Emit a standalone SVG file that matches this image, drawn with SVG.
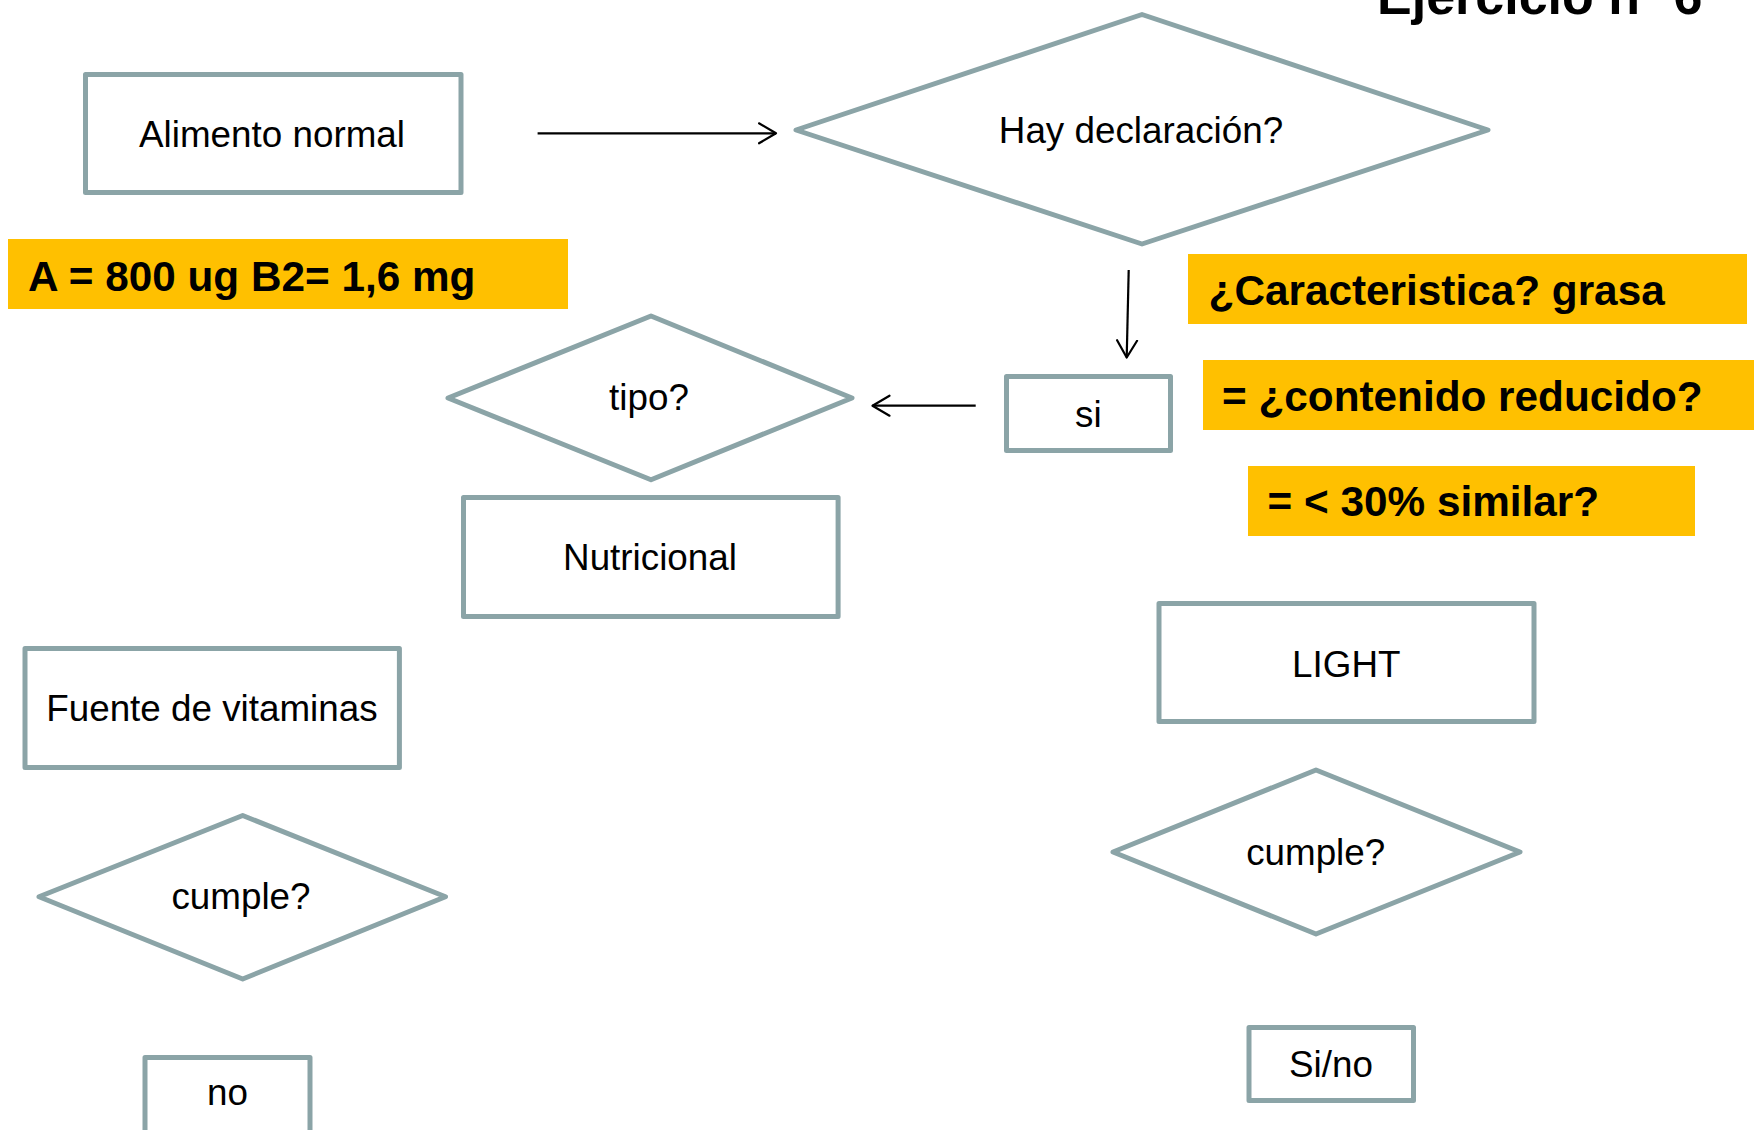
<svg xmlns="http://www.w3.org/2000/svg" width="1754" height="1130" viewBox="0 0 1754 1130">
<defs>
<style>
.box{fill:#FFFFFF;stroke:#8BA4A7;stroke-width:5;stroke-linejoin:round}
.lbl{font-family:"Liberation Sans",Arial,sans-serif;font-size:36.8px;fill:#000000;text-anchor:middle}
.hl{fill:#FFC000}
.hlt{font-family:"Liberation Sans",Arial,sans-serif;font-size:42.3px;font-weight:bold;fill:#000000}
.conn{stroke:#000000;stroke-width:2.2;fill:none}
.title{font-family:"Liberation Sans",Arial,sans-serif;font-size:52px;font-weight:bold;fill:#000000}
</style>
<marker id="arr" viewBox="0 0 20 24" refX="18" refY="12" markerWidth="20" markerHeight="24" markerUnits="userSpaceOnUse" orient="auto">
<path d="M1,2 L18,12 L1,22" fill="none" stroke="#000000" stroke-width="2.2" stroke-linecap="round" stroke-linejoin="round"/>
</marker>
</defs>
<rect width="1754" height="1130" fill="#FFFFFF"/>

<text class="title" x="1377" y="14">Ejercicio nº 6</text>

<g id="connectors">
<line class="conn" x1="537.6" y1="133.3" x2="776" y2="133.3" marker-end="url(#arr)"/>
<line class="conn" x1="1128.7" y1="270" x2="1126.7" y2="357.5" marker-end="url(#arr)"/>
<line class="conn" x1="975.7" y1="405.7" x2="872.5" y2="405.7" marker-end="url(#arr)"/>
</g>

<g id="alimento-normal">
<rect class="box" x="85.5" y="74.5" width="375.5" height="118"/>
<text class="lbl" x="272" y="147">Alimento normal</text>
</g>

<g id="hay-declaracion">
<polygon class="box" points="796,130 1142,14.5 1488,130 1142,244"/>
<text class="lbl" x="1141" y="143">Hay declaración?</text>
</g>

<g id="nota-vitaminas">
<rect class="hl" x="8" y="239" width="560" height="70"/>
<text class="hlt" x="28" y="290.7">A = 800 ug B2= 1,6 mg</text>
</g>

<g id="nota-caracteristica">
<rect class="hl" x="1188" y="254" width="559" height="70"/>
<text class="hlt" x="1208.6" y="305">¿Caracteristica? grasa</text>
</g>

<g id="nota-contenido">
<rect class="hl" x="1203" y="360" width="551" height="70"/>
<text class="hlt" x="1222" y="411">= ¿contenido reducido?</text>
</g>

<g id="nota-similar">
<rect class="hl" x="1248" y="466" width="447" height="70"/>
<text class="hlt" x="1267.6" y="516">= &lt; 30% similar?</text>
</g>

<g id="si">
<rect class="box" x="1006.5" y="376.5" width="164" height="74"/>
<text class="lbl" x="1088.4" y="426.7">si</text>
</g>

<g id="tipo">
<polygon class="box" points="448,398 651,316 852,398 651,479.7"/>
<text class="lbl" x="649" y="410">tipo?</text>
</g>

<g id="nutricional">
<rect class="box" x="463.5" y="497.5" width="374.6" height="119"/>
<text class="lbl" x="650" y="570">Nutricional</text>
</g>

<g id="fuente-de-vitaminas">
<rect class="box" x="25" y="648.5" width="374.4" height="119"/>
<text class="lbl" x="211.9" y="720.7">Fuente de vitaminas</text>
</g>

<g id="cumple-izq">
<polygon class="box" points="39,896.7 242.7,815.5 445.5,896.7 242.7,979"/>
<text class="lbl" x="241" y="909">cumple?</text>
</g>

<g id="no">
<rect class="box" x="145" y="1057.5" width="165" height="76"/>
<text class="lbl" x="227.5" y="1105">no</text>
</g>

<g id="light">
<rect class="box" x="1159" y="603.5" width="375" height="118"/>
<text class="lbl" x="1346.3" y="677">LIGHT</text>
</g>

<g id="cumple-der">
<polygon class="box" points="1113,852 1316,770 1520,852 1316,934"/>
<text class="lbl" x="1315.7" y="865">cumple?</text>
</g>

<g id="si-no">
<rect class="box" x="1249" y="1027.5" width="164.5" height="73"/>
<text class="lbl" x="1331" y="1076.5">Si/no</text>
</g>
</svg>
